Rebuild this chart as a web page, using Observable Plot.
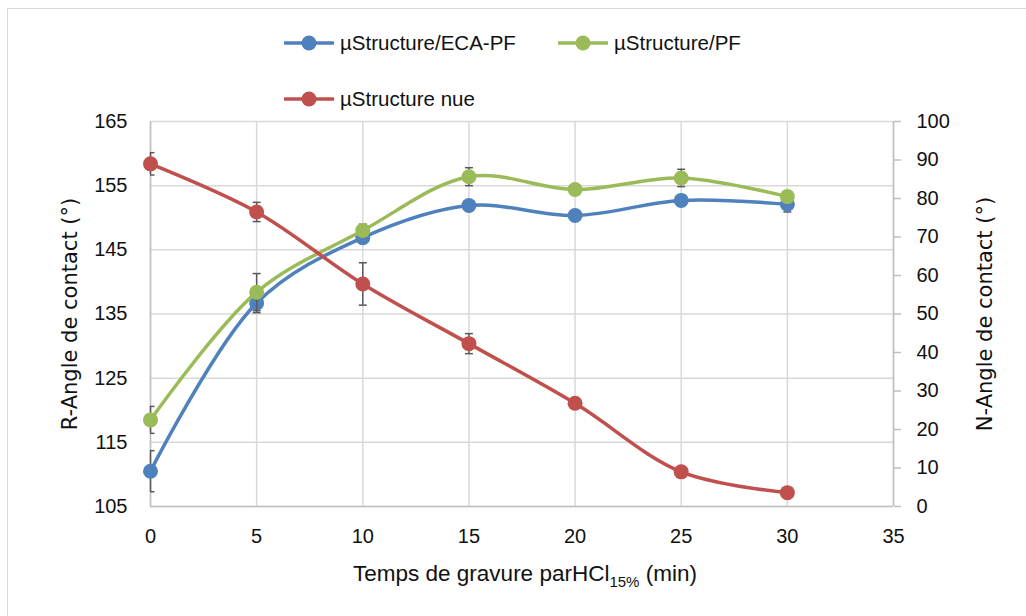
<!DOCTYPE html>
<html>
<head>
<meta charset="utf-8">
<script src="https://cdn.jsdelivr.net/npm/d3@7"></script>
<script src="https://cdn.jsdelivr.net/npm/@observablehq/plot@0.6"></script>
<style>
  html, body { margin: 0; padding: 0; background: #fff; }
  #wrap { position: relative; width: 1026px; height: 616px; overflow: hidden; background: #fff; font-family: "Liberation Sans", Arial, sans-serif; }
  #border { position: absolute; left: 7px; top: 8px; width: 1100px; height: 700px; border: 1.5px solid #d9d9d9; box-sizing: border-box; }
  #legend { position: absolute; left: 0; top: 0; width: 1026px; height: 110px; }
  .lg { position: absolute; display: flex; align-items: center; font-size: 20.5px; color: #111; white-space: nowrap; }
  .lg svg { margin-right: 5px; }
  #chart { position: absolute; left: 0; top: 110px; }
  #xtitle { position: absolute; left: 0; width: 1050px; top: 561px; text-align: center; font-size: 22.5px; color: #111; }
  #xtitle sub { font-size: 15px; vertical-align: -6px; line-height: 0; }
</style>
</head>
<body>
<div id="wrap">
  <div id="border"></div>
  <div id="legend"></div>
  <div id="chart"></div>
  <div id="xtitle">Temps de gravure parHCl<sub>15%</sub> (min)</div>
</div>
<script>
// ---- data ----
const times = [0, 5, 10, 15, 20, 25, 30];
const ecaPF = [110.5, 136.7, 146.9, 151.9, 150.35, 152.7, 152.1];      // left axis (R-Angle)
const ecaPFErr = [3.2, 1.5, 0.6, 0.5, 0.5, 0.5, 1.2];
const pf = [118.5, 138.4, 148.0, 156.4, 154.4, 156.2, 153.3];          // left axis (R-Angle)
const pfErr = [2.1, 2.9, 1.0, 1.4, 0.5, 1.35, 0.5];
const nue = [89.0, 76.5, 57.8, 42.3, 26.8, 9.0, 3.6];                  // right axis (N-Angle)
const nueErr = [2.9, 2.5, 5.5, 2.6, 1.2, 0.5, 0.5];
const seriesNames = ["µStructure/ECA-PF", "µStructure/PF", "µStructure nue"];
const colors = ["#4F81BD", "#9BBB59", "#C0504D"];
const xTicks = [0, 5, 10, 15, 20, 25, 30, 35];
const leftTicks = [105, 115, 125, 135, 145, 155, 165];
const rightTicks = [0, 10, 20, 30, 40, 50, 60, 70, 80, 90, 100];

// right axis (0..100) mapped onto left domain (105..165)
const toLeft = v => 105 + v * 0.6;
const toRight = v => (v - 105) / 0.6;

const rows = [];
times.forEach((t, i) => {
  rows.push({s: seriesNames[0], t, y: ecaPF[i], e: ecaPFErr[i]});
  rows.push({s: seriesNames[1], t, y: pf[i], e: pfErr[i]});
  rows.push({s: seriesNames[2], t, y: toLeft(nue[i]), e: nueErr[i] * 0.6});
});

const cap = { draw(ctx, size) { ctx.moveTo(-4, 0); ctx.lineTo(4, 0); } };
const font = "Liberation Sans, Arial, sans-serif";

const marks = [
  Plot.gridX(xTicks, {stroke: "#d9d9d9", strokeOpacity: 1, strokeWidth: 1.5}),
  Plot.gridY(leftTicks, {stroke: "#d9d9d9", strokeOpacity: 1, strokeWidth: 1.5}),
  Plot.ruleX([0, 35], {stroke: "#bfbfbf", strokeWidth: 1.5}),
  Plot.ruleY([105], {stroke: "#bfbfbf", strokeWidth: 1.5}),
  Plot.axisX({ticks: xTicks, tickSize: 0, tickPadding: 22, fontSize: 20, fontFamily: font, label: null, color: "#111"}),
  Plot.axisY({anchor: "left", ticks: leftTicks, tickSize: 0, tickPadding: 23, fontSize: 20, fontFamily: font, label: null, color: "#111"}),
  Plot.axisY({anchor: "right", ticks: rightTicks.map(toLeft), tickFormat: d => Math.round(toRight(d)), tickSize: 7, tickPadding: 16, stroke: "#bfbfbf", strokeWidth: 1.5, fontSize: 20, fontFamily: font, label: null, color: "#111"}),
  Plot.text(["R-Angle de contact (°)"], {frameAnchor: "left", textAnchor: "middle", dx: -80, rotate: -90, fontSize: 21, fontFamily: "DejaVu Sans", fill: "#111"}),
  Plot.text(["N-Angle de contact (°)"], {frameAnchor: "right", textAnchor: "middle", dx: 92, rotate: -90, fontSize: 21, fontFamily: "DejaVu Sans", fill: "#111"})
];

seriesNames.forEach((name, k) => {
  const d = rows.filter(r => r.s === name);
  marks.push(
    Plot.line(d, {x: "t", y: "y", stroke: colors[k], strokeWidth: 3.5, curve: "catmull-rom"}),
    Plot.ruleX(d, {x: "t", y1: r => r.y - r.e, y2: r => r.y + r.e, stroke: "#595959", strokeWidth: 1.5}),
    Plot.dot(d, {x: "t", y: r => r.y - r.e, symbol: cap, stroke: "#595959", strokeWidth: 1.5, clip: true}),
    Plot.dot(d, {x: "t", y: r => r.y + r.e, symbol: cap, stroke: "#595959", strokeWidth: 1.5, clip: true}),
    Plot.dot(d, {x: "t", y: "y", r: 7.5, fill: colors[k], stroke: "none"})
  );
});

const chart = Plot.plot({
  width: 1026,
  height: 446,
  marginTop: 11,
  marginBottom: 50,
  marginLeft: 150,
  marginRight: 133,
  x: {domain: [0, 35]},
  y: {domain: [105, 165]},
  style: {background: "transparent", fontFamily: font},
  marks
});
document.getElementById("chart").appendChild(chart);

// legend
const legendPos = [{x: 283, y: 43}, {x: 557, y: 43}, {x: 283, y: 99}];
const legend = document.getElementById("legend");
seriesNames.forEach((name, k) => {
  const item = document.createElement("div");
  item.className = "lg";
  item.style.left = legendPos[k].x + "px";
  item.style.top = (legendPos[k].y - 13) + "px";
  item.innerHTML = `<svg width="52" height="26"><line x1="1" y1="13" x2="51" y2="13" stroke="${colors[k]}" stroke-width="3.5"/><circle cx="26" cy="13" r="7.5" fill="${colors[k]}"/></svg><span>${name}</span>`;
  legend.appendChild(item);
});
</script>
</body>
</html>
